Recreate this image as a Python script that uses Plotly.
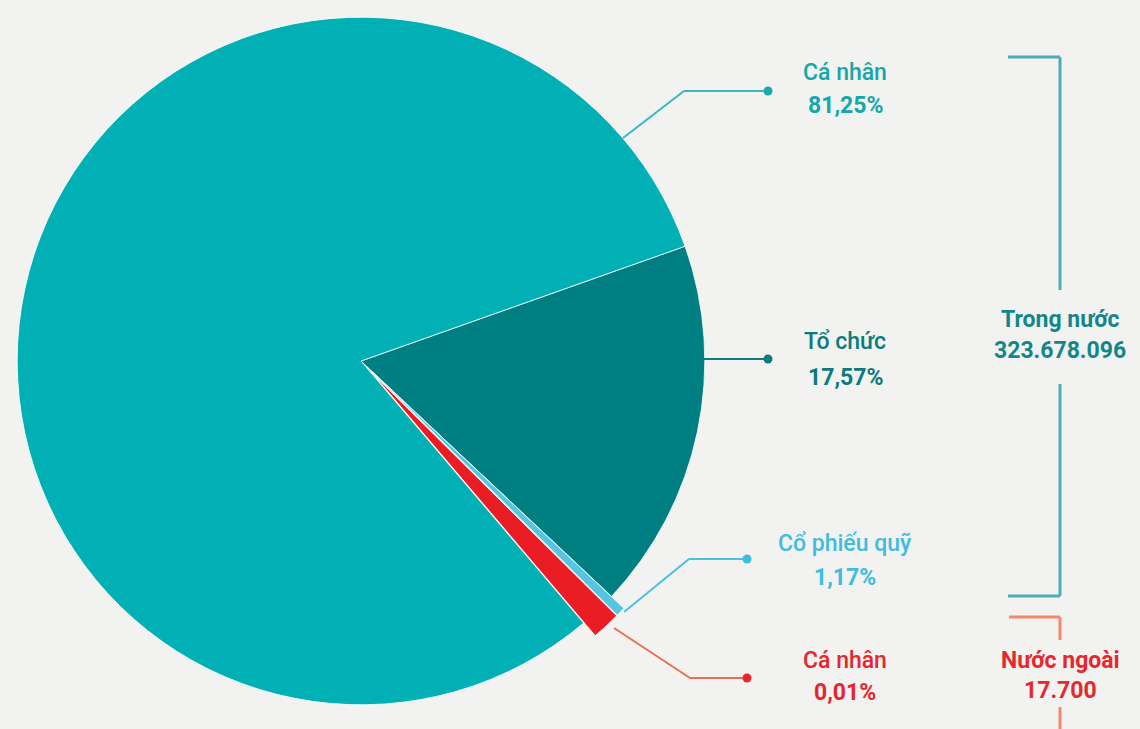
import plotly.graph_objects as go

# Slices in clockwise order, starting at the upper edge of "Tổ chức"
slice_names = ["Tổ chức", "Cổ phiếu quỹ", "Cá nhân (nước ngoài)", "Cá nhân"]
# drawn shares (angular size of each wedge, % of circle)
slice_shares = [17.42, 0.44, 1.35, 80.79]
slice_colors = ["#007f83", "#55c6e2", "#ea1c24", "#00b0b4"]
slice_pull = [0, 0.05, 0.05, 0]

# Label texts as printed
label_titles = ["Cá nhân", "Tổ chức", "Cổ phiếu quỹ", "Cá nhân"]
label_values = ["81,25%", "17,57%", "1,17%", "0,01%"]
label_colors = ["#14a7ab", "#0b7b7f", "#3fbde0", "#e6262c"]

group_titles = ["Trong nước", "Nước ngoài"]
group_values = ["323.678.096", "17.700"]
group_colors = ["#12868a", "#e8272c"]

W, H = 1140, 729
BG = "#f2f2f1"


def px(x):
    return x / W


def py(y):
    return 1 - y / H


fig = go.Figure()
fig.add_trace(go.Pie(
    labels=slice_names,
    values=slice_shares,
    sort=False,
    direction="clockwise",
    rotation=70.5,
    pull=slice_pull,
    marker=dict(colors=slice_colors, line=dict(color="rgba(255,255,255,0.8)", width=1)),
    textinfo="none",
    hoverinfo="label",
    showlegend=False,
    domain=dict(x=[0, 722 / W], y=[7 / H, 1]),
))

shapes = []
annotations = []


def line(pts, color, width=2):
    for (x0, y0), (x1, y1) in zip(pts[:-1], pts[1:]):
        shapes.append(dict(type="line", xref="paper", yref="paper",
                           x0=px(x0), y0=py(y0), x1=px(x1), y1=py(y1),
                           line=dict(color=color, width=width)))


def dot(x, y, color, r=4.5):
    shapes.append(dict(type="circle", xref="paper", yref="paper",
                       x0=px(x - r), x1=px(x + r), y0=py(y - r), y1=py(y + r),
                       fillcolor=color, line=dict(width=0)))


# connectors
line([(623, 138), (684, 91), (768, 91)], "#3bb8bc")
dot(768, 91, "#1aa8ac")
line([(704, 359), (768, 359)], "#0d7b80")
dot(768, 359, "#0d7b80")
line([(624, 612), (689, 559), (747, 559)], "#4cc0e0")
dot(747, 559, "#3cbde0")
line([(614, 628), (690, 678), (747, 678)], "#ea6f52")
dot(747, 678, "#e8262c")

# brackets
line([(1008, 57), (1060, 57), (1060, 290)], "#4aaeb6", 3)
line([(1060, 384), (1060, 596), (1008, 596)], "#4aaeb6", 3)
line([(1009, 617), (1060, 617), (1060, 640)], "#f2896b", 3)
line([(1060, 707), (1060, 729)], "#f2896b", 3)

label_pos = [(845, 73, 106), (845, 341, 377), (845, 543, 577), (845, 660, 692)]
for (cx, y1, y2), t, v, c in zip(label_pos, label_titles, label_values, label_colors):
    annotations.append(dict(x=px(cx), y=py(y1), xref="paper", yref="paper", text=t,
                            showarrow=False, xanchor="center", yanchor="middle",
                            font=dict(family="Roboto", size=23, color=c, weight=500)))
    annotations.append(dict(x=px(cx), y=py(y2), xref="paper", yref="paper", text=v,
                            showarrow=False, xanchor="center", yanchor="middle",
                            font=dict(family="Roboto", size=23, color=c, weight=700)))

group_pos = [(1060, 319, 350), (1060, 660, 690)]
for (cx, y1, y2), t, v, c in zip(group_pos, group_titles, group_values, group_colors):
    annotations.append(dict(x=px(cx), y=py(y1), xref="paper", yref="paper", text=t,
                            showarrow=False, xanchor="center", yanchor="middle",
                            font=dict(family="Roboto", size=23, color=c, weight=700)))
    annotations.append(dict(x=px(cx), y=py(y2), xref="paper", yref="paper", text=v,
                            showarrow=False, xanchor="center", yanchor="middle",
                            font=dict(family="Roboto", size=23, color=c, weight=700)))

fig.update_layout(
    width=W, height=H,
    margin=dict(l=0, r=0, t=0, b=0),
    paper_bgcolor=BG,
    plot_bgcolor=BG,
    shapes=shapes,
    annotations=annotations,
)

fig.write_html(
    "out.html",
    config={"displayModeBar": False},
    post_script=(
        "document.body.style.margin='0';"
        "document.body.style.overflow='hidden';"
        f"document.body.style.background='{BG}';"
    ),
)
